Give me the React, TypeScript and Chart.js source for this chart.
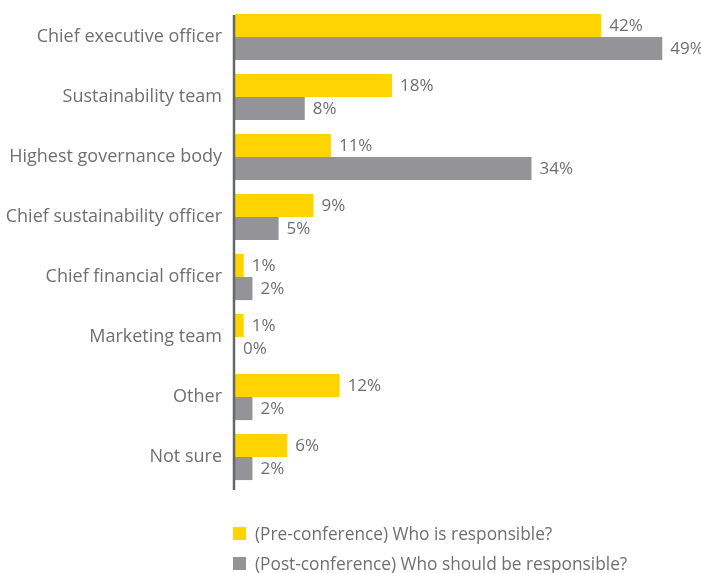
import React, { useEffect, useRef } from "react";
import { Chart, registerables } from "chart.js";

Chart.register(...registerables);

const categories = [
  "Chief executive officer",
  "Sustainability team",
  "Highest governance body",
  "Chief sustainability officer",
  "Chief financial officer",
  "Marketing team",
  "Other",
  "Not sure",
];
const preConference = [42, 18, 11, 9, 1, 1, 12, 6];
const postConference = [49, 8, 34, 5, 2, 0, 2, 2];
const seriesNames = [
  "(Pre-conference) Who is responsible?",
  "(Post-conference) Who should be responsible?",
];

const YELLOW = "#FFD400";
const GREY = "#949498";
const TEXT = "#6f6f73";
const FONT = "'Open Sans', Roboto, sans-serif";

const valueLabels = {
  id: "valueLabels",
  afterDatasetsDraw(chart: any) {
    const ctx = chart.ctx;
    ctx.save();
    ctx.font = `17px ${FONT}`;
    ctx.fillStyle = TEXT;
    ctx.textBaseline = "middle";
    ctx.textAlign = "left";
    chart.data.datasets.forEach((ds: any, di: number) => {
      const meta = chart.getDatasetMeta(di);
      meta.data.forEach((el: any, i: number) => {
        ctx.fillText(`${ds.data[i]}%`, el.x + 8, el.y + 1);
      });
    });
    ctx.restore();
  },
};

const axisLine = {
  id: "axisLine",
  afterDatasetsDraw(chart: any) {
    const ctx = chart.ctx;
    const x = chart.chartArea.left - 1;
    ctx.save();
    ctx.strokeStyle = "#66676b";
    ctx.lineWidth = 2.5;
    ctx.beginPath();
    ctx.moveTo(x, chart.chartArea.top + 8);
    ctx.lineTo(x, chart.chartArea.bottom + 3);
    ctx.stroke();
    ctx.restore();
  },
};

export default function App() {
  const ref = useRef<HTMLCanvasElement>(null);
  useEffect(() => {
    if (!ref.current) return;
    const chart = new Chart(ref.current, {
      type: "bar",
      data: {
        labels: categories,
        datasets: [
          {
            label: seriesNames[0],
            data: preConference,
            backgroundColor: YELLOW,
            categoryPercentage: 0.77,
            barPercentage: 1,
          },
          {
            label: seriesNames[1],
            data: postConference,
            backgroundColor: GREY,
            categoryPercentage: 0.77,
            barPercentage: 1,
          },
        ],
      },
      options: {
        indexAxis: "y",
        animation: false,
        responsive: false,
        maintainAspectRatio: false,
        layout: { padding: { top: 7, bottom: 86, right: 30, left: 0 } },
        plugins: { legend: { display: false }, tooltip: { enabled: false } },
        scales: {
          x: { display: false, min: 0, max: 50 },
          y: {
            grid: { display: false, drawTicks: false },
            border: { display: false },
            ticks: {
              color: TEXT,
              font: { family: FONT, size: 18 },
              padding: 13,
            },
            afterFit(scale: any) {
              scale.width = 235;
              scale.paddingTop = 0;
              scale.paddingBottom = 0;
            },
          },
        },
      },
      plugins: [valueLabels, axisLine],
    });
    return () => chart.destroy();
  }, []);

  const legendItem = (color: string, text: string, top: number) => (
    <div
      style={{
        position: "absolute",
        left: 233,
        top,
        height: 20,
        display: "flex",
        alignItems: "center",
        fontFamily: FONT,
        fontSize: 17.3,
        color: TEXT,
        whiteSpace: "nowrap",
      }}
    >
      <span
        style={{
          display: "inline-block",
          width: 13,
          height: 13,
          background: color,
          marginRight: 9,
        }}
      />
      <span>{text}</span>
    </div>
  );

  return (
    <div
      style={{
        position: "fixed",
        left: 0,
        top: 0,
        width: 701,
        height: 573,
        background: "#fff",
      }}
    >
      <canvas ref={ref} width={701} height={573} style={{ position: "absolute", left: 0, top: 0 }} />
      {legendItem(YELLOW, seriesNames[0], 523)}
      {legendItem(GREY, seriesNames[1], 553)}
    </div>
  );
}
